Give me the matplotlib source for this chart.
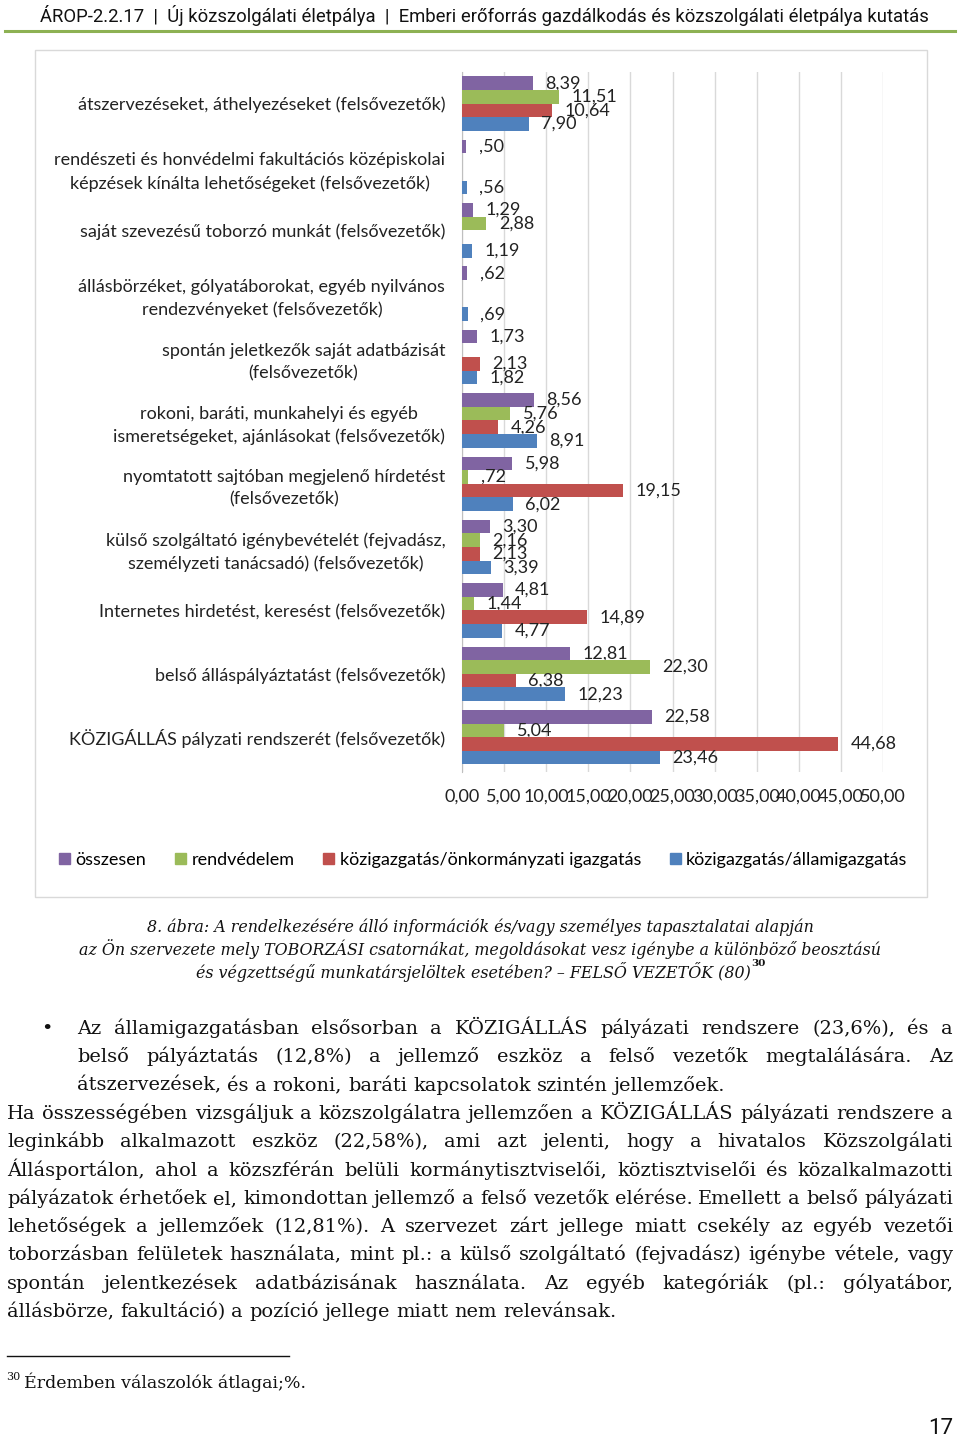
import matplotlib
matplotlib.use("Agg")
import matplotlib.pyplot as plt
from matplotlib.patches import Rectangle, Patch
from matplotlib.lines import Line2D
import numpy as np

# --- data ---
categories = [
    "átszervezéseket, áthelyezéseket (felsővezetők)",
    "rendészeti és honvédelmi fakultációs középiskolai\nképzések kínálta lehetőségeket (felsővezetők)",
    "saját szevezésű toborzó munkát (felsővezetők)",
    "állásbörzéket, gólyatáborokat, egyéb nyilvános\nrendezvényeket (felsővezetők)",
    "spontán jeletkezők saját adatbázisát\n(felsővezetők)",
    "rokoni, baráti, munkahelyi és egyéb\nismeretségeket, ajánlásokat (felsővezetők)",
    "nyomtatott sajtóban megjelenő hírdetést\n(felsővezetők)",
    "külső szolgáltató igénybevételét (fejvadász,\nszemélyzeti tanácsadó) (felsővezetők)",
    "Internetes hirdetést, keresést (felsővezetők)",
    "belső álláspályáztatást (felsővezetők)",
    "KÖZIGÁLLÁS pályzati rendszerét (felsővezetők)",
]
series_names = ["összesen", "rendvédelem",
                "közigazgatás/önkormányzati igazgatás",
                "közigazgatás/államigazgatás"]
osszesen = [8.39, 0.50, 1.29, 0.62, 1.73, 8.56, 5.98, 3.30, 4.81, 12.81, 22.58]
rendvedelem = [11.51, 0, 2.88, 0, 0, 5.76, 0.72, 2.16, 1.44, 22.30, 5.04]
onkormanyzati = [10.64, 0, 0, 0, 2.13, 4.26, 19.15, 2.13, 14.89, 6.38, 44.68]
allami = [7.90, 0.56, 1.19, 0.69, 1.82, 8.91, 6.02, 3.39, 4.77, 12.23, 23.46]
colors = ["#8064A2", "#9BBB59", "#C0504D", "#4F81BD"]
x_ticks = [0, 5, 10, 15, 20, 25, 30, 35, 40, 45, 50]

header = "ÁROP-2.2.17  |  Új közszolgálati életpálya  |  Emberi erőforrás gazdálkodás és közszolgálati életpálya kutatás"
caption = [
    "8. ábra: A rendelkezésére álló információk és/vagy személyes tapasztalatai alapján",
    "az Ön szervezete mely TOBORZÁSI csatornákat, megoldásokat vesz igénybe a különböző beosztású",
    "és végzettségű munkatársjelöltek esetében? – FELSŐ VEZETŐK (80)",
]
bullet_lines = [
    "Az államigazgatásban elsősorban a KÖZIGÁLLÁS pályázati rendszere (23,6%), és a",
    "belső pályáztatás (12,8%) a jellemző eszköz a felső vezetők megtalálására. Az",
    "átszervezések, és a rokoni, baráti kapcsolatok szintén jellemzőek.",
]
para_lines = [
    "Ha összességében vizsgáljuk a közszolgálatra jellemzően a KÖZIGÁLLÁS pályázati rendszere a",
    "leginkább alkalmazott eszköz (22,58%), ami azt jelenti, hogy a hivatalos Közszolgálati",
    "Állásportálon, ahol a közszférán belüli kormánytisztviselői, köztisztviselői és közalkalmazotti",
    "pályázatok érhetőek el, kimondottan jellemző a felső vezetők elérése. Emellett a belső pályázati",
    "lehetőségek a jellemzőek (12,81%). A szervezet zárt jellege miatt csekély az egyéb vezetői",
    "toborzásban felületek használata, mint pl.: a külső szolgáltató (fejvadász) igénybe vétele, vagy",
    "spontán jelentkezések adatbázisának használata. Az egyéb kategóriák (pl.: gólyatábor,",
    "állásbörze, fakultáció) a pozíció jellege miatt nem relevánsak.",
]

W, H = 960, 1439
fig = plt.figure(figsize=(9.6, 14.39), dpi=100)
fig.patch.set_facecolor("white")

def fx(x):
    return x / W

def fy(y):
    return 1 - y / H

sans = ["Lato", "DejaVu Sans"]
cond = ["Liberation Sans Narrow", "Roboto", "DejaVu Sans"]
serif = ["DejaVu Serif"]
fs = 13

# header
fig.text(fx(40), fy(15), header, fontsize=13.3, family=cond, va="center", color="#111")
fig.add_artist(Line2D([fx(5), fx(955)], [fy(31), fy(31)], color="#8DB153", lw=2.2))

# chart frame
fig.add_artist(Rectangle((fx(35), fy(897)), fx(927) - fx(35), (897 - 50) / H,
                         transform=fig.transFigure, fill=False, ec="#d9d9d9", lw=1))

ax = fig.add_axes([fx(462), fy(772), fx(883) - fx(462), (772 - 72) / H])
y = np.arange(len(categories))
h = 0.215


def fmt(v):
    s = f"{v:.2f}".replace(".", ",")
    return s[1:] if v < 1 else s


for i, (vals, c) in enumerate(zip([osszesen, rendvedelem, onkormanyzati, allami], colors)):
    bars = ax.barh(y + (i - 1.5) * h, vals, height=h, color=c, zorder=3)
    ax.bar_label(bars, labels=[fmt(v) if v > 0 else "" for v in vals], padding=9,
                 fontsize=fs, family=sans, color="#222")

ax.set_xlim(0, 50)
ax.set_ylim(10.55, -0.5)
ax.set_xticks(x_ticks)
ax.set_xticklabels([f"{v:.2f}".replace(".", ",") for v in x_ticks], family=sans, fontsize=fs)
ax.set_yticks(y)
ax.set_yticklabels(categories, family=sans, fontsize=fs, multialignment="center",
                   linespacing=1.5)
ax.tick_params(axis="both", length=0, colors="#222")
ax.tick_params(axis="y", pad=12)
ax.tick_params(axis="x", pad=12)
ax.xaxis.grid(True, color="#d9d9d9", lw=1, zorder=0)
ax.set_axisbelow(True)
for s in ["top", "right", "bottom"]:
    ax.spines[s].set_visible(False)
ax.spines["left"].set_color("#bfbfbf")

handles = [Patch(color=c) for c in colors]
fig.legend(handles, series_names, loc="center left", bbox_to_anchor=(fx(43), fy(860)),
           ncol=4, frameon=False, prop={"family": sans, "size": fs},
           handlelength=0.6, handleheight=0.6, handletextpad=0.3, columnspacing=1.6)

# caption
r = fig.canvas.get_renderer()
cap_size = 11.4
for k, line in enumerate(caption):
    t = fig.text(fx(480), fy(932 + 23 * k), line, fontsize=cap_size, family=serif,
                 style="italic", ha="center", va="baseline", color="#111")
sup_w = 14
t.set_x(fx(480 - sup_w / 2))
tw = t.get_window_extent(r).width
fig.text(fx(480 - sup_w / 2 + tw / 2 + 1), fy(966), "30", fontsize=7.5, family=serif,
         weight="bold", va="baseline", color="#111")


# justified body text
def natural_width(line, size):
    t = fig.text(0, 0, line, fontsize=size, family=serif)
    w = t.get_window_extent(r).width
    t.remove()
    return w


body_size = 16
widest = max(natural_width(l, body_size) for l in para_lines)
body_size = min(body_size, body_size * 942 / widest)


def place_line(line, x0, x1, ybase, justify):
    words = line.split()
    objs = [fig.text(0, fy(ybase), w, fontsize=body_size, family=serif,
                     va="baseline", color="#111") for w in words]
    widths = [o.get_window_extent(r).width for o in objs]
    if justify and len(words) > 1:
        gap = (x1 - x0 - sum(widths)) / (len(words) - 1)
    else:
        gap = natural_width("a a", body_size) - natural_width("aa", body_size)
    x = x0
    for o, w in zip(objs, widths):
        o.set_x(fx(x))
        x += w + gap


fig.text(fx(41), fy(1034), "•", fontsize=14, family=serif, va="baseline", color="#111")
for k, line in enumerate(bullet_lines):
    place_line(line, 77, 953, 1034 + 28.3 * k, k < len(bullet_lines) - 1)
for k, line in enumerate(para_lines):
    place_line(line, 7, 953, 1119 + 28.3 * k, k < len(para_lines) - 1)

# footnote
fig.add_artist(Line2D([fx(7), fx(289)], [fy(1356), fy(1356)], color="#111", lw=1))
fig.text(fx(6), fy(1380), "30", fontsize=8, family=serif, va="baseline", color="#111")
fig.text(fx(24), fy(1388), "Érdemben válaszolók átlagai;%.", fontsize=12.5, family=serif,
         va="baseline", color="#111")
fig.text(fx(953), fy(1428), "17", fontsize=16, family=cond, ha="right", va="center",
         color="#111")

fig.savefig("out.png", dpi=100)
